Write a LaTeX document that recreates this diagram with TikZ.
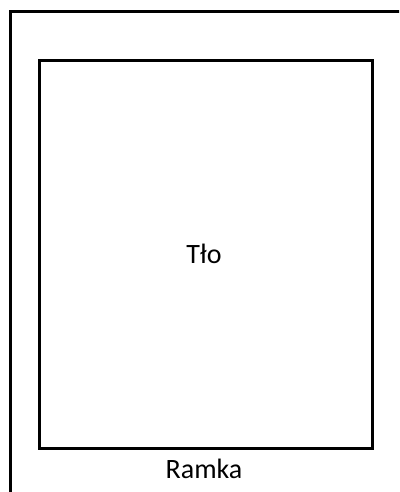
\documentclass[tikz,border=0pt]{standalone}
\usepackage{fontspec}
\setmainfont{Carlito}
\begin{document}
\begin{tikzpicture}[x=1pt,y=-1pt,
  frame/.style={draw=black,line width=3pt},
  lbl/.style={font=\fontsize{28}{33}\selectfont,inner sep=0pt}]
\useasboundingbox (0,0) rectangle (399,492);
\clip (0,0) rectangle (399,492);
\fill[white] (0,0) rectangle (399,492);
\draw[frame] (10.5,530) |- (430,11.5);
\node[frame,minimum width=333pt,minimum height=387pt,inner sep=0pt] (tlo) at (205.5,254.5) {};
\node[lbl,anchor=base] (tlotext) at (204,263) {Tło};
\node[lbl,anchor=base] (ramka) at (204,478) {Ramka};
\end{tikzpicture}
\end{document}
